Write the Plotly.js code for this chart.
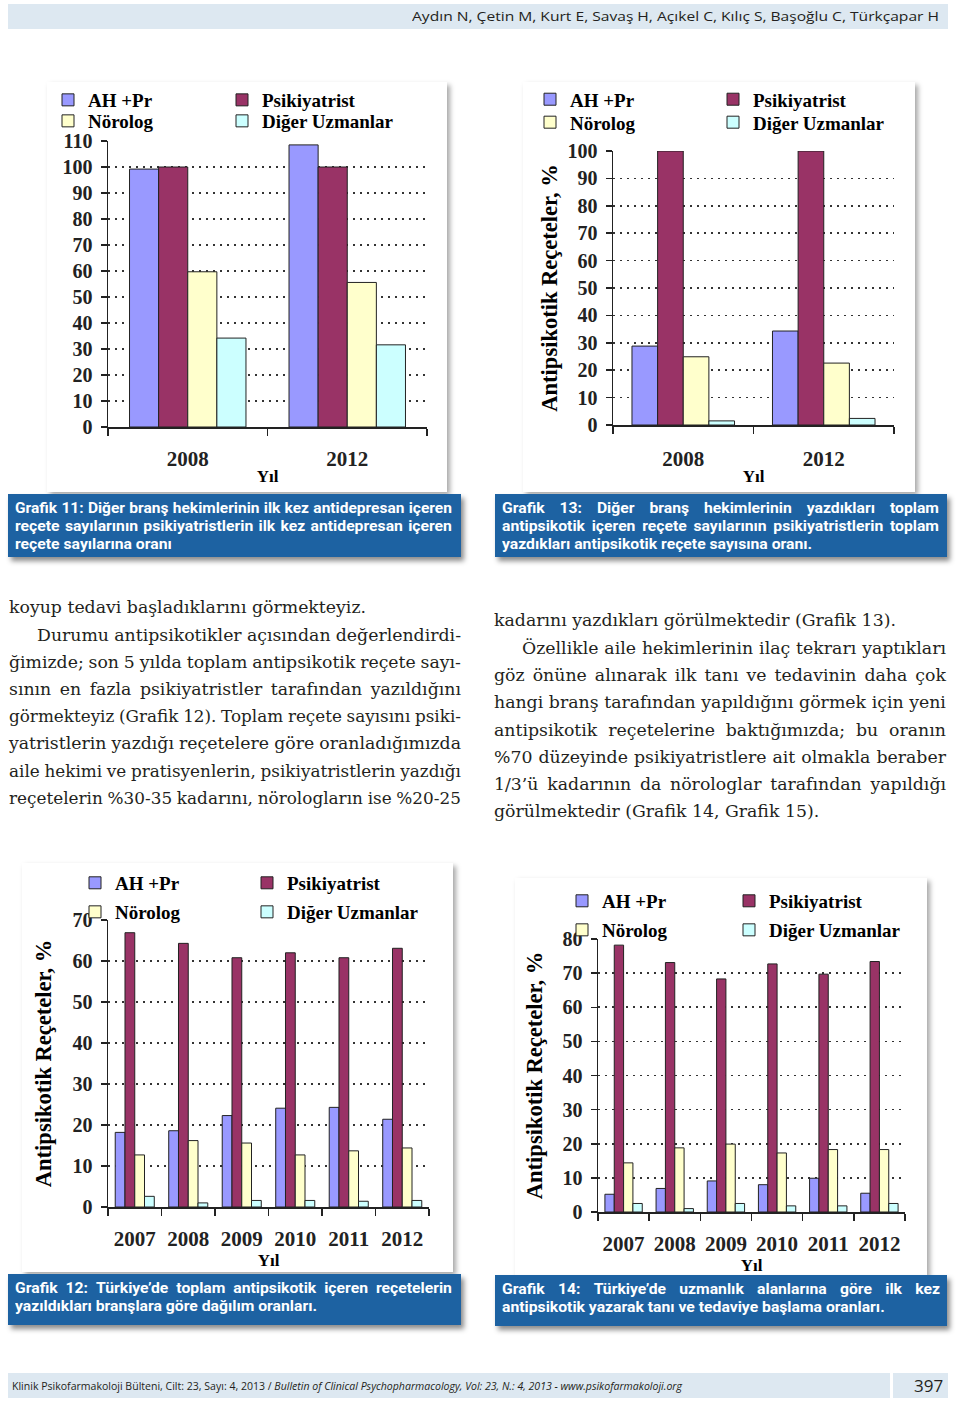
<!DOCTYPE html>
<html><head><meta charset="utf-8">
<script src="https://cdn.plot.ly/plotly-3.0.1.min.js"></script>
<style>
html,body{margin:0;padding:0;}
body{width:960px;height:1403px;position:relative;background:#fff;overflow:hidden;}
.band{position:absolute;background:#dde8f1;}
.panel{position:absolute;background:#fff;box-shadow:3px 3px 5px rgba(0,0,0,0.35);}
.cap{position:absolute;background:#1d62a2;box-shadow:3px 4px 5px rgba(0,0,0,0.45);}
.ln{position:absolute;white-space:pre;}
.capt{font-family:'Roboto',sans-serif;font-weight:700;font-size:14.5px;color:#fff;}
.bt{font-family:'DejaVu Serif',serif;font-size:16px;color:#231f20;}
.hd{font-family:'Open Sans',sans-serif;font-size:13.5px;color:#231f20;}
.ft{font-family:'Open Sans',sans-serif;font-size:11px;color:#231f20;}
</style></head>
<body>
<div class="band" style="left:8px;top:4px;width:940px;height:25px;"></div>
<div class="band" style="left:8px;top:1373px;width:882px;height:25px;"></div>
<div class="band" style="left:893px;top:1373px;width:55px;height:25px;"></div>

<div id="c11" class="panel" style="left:47px;top:82px;width:400px;height:410px;"></div>
<div id="c13" class="panel" style="left:523px;top:82px;width:392px;height:410px;"></div>
<div id="c12" class="panel" style="left:22px;top:863px;width:431px;height:409px;"></div>
<div id="c14" class="panel" style="left:515px;top:878px;width:412px;height:397px;"></div>

<div class="cap" style="left:8px;top:494px;width:453px;height:63px;"></div>
<div class="cap" style="left:495px;top:494px;width:452px;height:63px;"></div>
<div class="cap" style="left:8px;top:1274px;width:453px;height:51px;"></div>
<div class="cap" style="left:495px;top:1275px;width:452px;height:51px;"></div>

<script>
// ---------------- chart data ----------------
const seriesNames = ['AH +Pr', 'Psikiyatrist', 'Nörolog', 'Diğer Uzmanlar'];
const seriesColors = ['#9999FF', '#993366', '#FFFFCC', '#CCFFFF'];

// Grafik 11
const years11 = ['2008', '2012'];
const ahpr11 = [99.2, 108.5];
const psik11 = [100, 100];
const norolog11 = [59.7, 55.6];
const diger11 = [34.2, 31.6];

// Grafik 13
const years13 = ['2008', '2012'];
const ahpr13 = [28.8, 34.3];
const psik13 = [100, 100];
const norolog13 = [24.9, 22.6];
const diger13 = [1.5, 2.4];

// Grafik 12
const years12 = ['2007', '2008', '2009', '2010', '2011', '2012'];
const ahpr12 = [18.2, 18.6, 22.3, 24.1, 24.3, 21.4];
const psik12 = [66.9, 64.3, 60.8, 62.0, 60.8, 63.1];
const norolog12 = [12.7, 16.2, 15.6, 12.7, 13.7, 14.4];
const diger12 = [2.6, 1.0, 1.6, 1.6, 1.4, 1.6];

// Grafik 14
const years14 = ['2007', '2008', '2009', '2010', '2011', '2012'];
const ahpr14 = [5.2, 6.9, 9.1, 8.0, 9.9, 5.5];
const psik14 = [78.2, 73.1, 68.3, 72.7, 69.7, 73.4];
const norolog14 = [14.4, 18.8, 19.9, 17.3, 18.3, 18.3];
const diger14 = [2.5, 1.0, 2.5, 1.8, 1.8, 2.5];

const xTitle = 'Yıl';
const yTitle = 'Antipsikotik Reçeteler, %';

// ---------------- page text ----------------
const headerText = 'Aydın N, Çetin M, Kurt E, Savaş H, Açıkel C, Kılıç S, Başoğlu C, Türkçapar H';
const footerText1 = 'Klinik Psikofarmakoloji Bülteni, Cilt: 23, Sayı: 4, 2013 / ';
const footerText2 = 'Bulletin of Clinical Psychopharmacology, Vol: 23, N.: 4, 2013 - www.psikofarmakoloji.org';
const pageNo = '397';
const cap11 = ['Grafik 11: Diğer branş hekimlerinin ilk kez antidepresan içeren',
  'reçete sayılarının psikiyatristlerin ilk kez antidepresan içeren',
  'reçete sayılarına oranı'];
const cap13 = ['Grafik 13: Diğer branş hekimlerinin yazdıkları toplam',
  'antipsikotik içeren reçete sayılarının psikiyatristlerin toplam',
  'yazdıkları antipsikotik reçete sayısına oranı.'];
const cap12 = ['Grafik 12: Türkiye’de toplam antipsikotik içeren reçetelerin',
  'yazıldıkları branşlara göre dağılım oranları.'];
const cap14 = ['Grafik 14: Türkiye’de uzmanlık alanlarına göre ilk kez',
  'antipsikotik yazarak tanı ve tedaviye başlama oranları.'];
const bodyLeft = ['koyup tedavi başladıklarını görmekteyiz.',
  'Durumu antipsikotikler açısından değerlendirdi-',
  'ğimizde; son 5 yılda toplam antipsikotik reçete sayı-',
  'sının en fazla psikiyatristler tarafından yazıldığını',
  'görmekteyiz (Grafik 12). Toplam reçete sayısını psiki-',
  'yatristlerin yazdığı reçetelere göre oranladığımızda',
  'aile hekimi ve pratisyenlerin, psikiyatristlerin yazdığı',
  'reçetelerin %30-35 kadarını, nörologların ise %20-25'];
const bodyRight = ['kadarını yazdıkları görülmektedir (Grafik 13).',
  'Özellikle aile hekimlerinin ilaç tekrarı yaptıkları',
  'göz önüne alınarak ilk tanı ve tedavinin daha çok',
  'hangi branş tarafından yapıldığını görmek için yeni',
  'antipsikotik reçetelerine baktığımızda; bu oranın',
  '%70 düzeyinde psikiyatristlere ait olmakla beraber',
  '1/3’ü kadarının da nörologlar tarafından yapıldığı',
  'görülmektedir (Grafik 14, Grafik 15).'];

// ---------------- text helpers ----------------
function natWidth(text, cls, italicPart) {
  const d = document.createElement('span');
  d.className = cls; d.style.position = 'absolute'; d.style.whiteSpace = 'pre'; d.style.visibility = 'hidden';
  d.textContent = text;
  if (italicPart) { const i = document.createElement('i'); i.textContent = italicPart; d.appendChild(i); }
  document.body.appendChild(d);
  const w = d.getBoundingClientRect().width;
  d.remove();
  return w;
}
function addLine(text, x, cy, w, lh, cls, justify, scale, fontSize) {
  const d = document.createElement('div');
  d.className = 'ln ' + cls;
  if (fontSize) d.style.fontSize = fontSize + 'px';
  d.style.left = x + 'px'; d.style.top = (cy - lh / 2) + 'px';
  d.style.height = lh + 'px'; d.style.lineHeight = lh + 'px';
  if (justify) {
    d.style.display = 'flex'; d.style.justifyContent = 'space-between';
    const words = text.split(/\s+/);
    const spans = words.map(function (wd) {
      const s = document.createElement('span'); s.textContent = wd; d.appendChild(s); return s;
    });
    d.style.width = (w / scale) + 'px';
    document.body.appendChild(d);
    let sum = 0;
    spans.forEach(function (s) { sum += s.getBoundingClientRect().width; });
    const fsz = parseFloat(getComputedStyle(d).fontSize);
    const need = (sum + (words.length - 1) * fsz * 0.28) * scale;
    if (need > w) scale = scale * w / need;
    d.style.width = (w / scale) + 'px';
  } else {
    d.textContent = text;
    document.body.appendChild(d);
  }
  if (scale !== 1) { d.style.transform = 'scaleX(' + scale + ')'; d.style.transformOrigin = '0 0'; }
  return d;
}

// header + footer
(function () {
  const s = 527 / natWidth(headerText, 'hd');
  addLine(headerText, 412, 16, 527, 20, 'hd', false, s);
  const f = 670 / natWidth(footerText1, 'ft', footerText2);
  const d = addLine(footerText1, 12, 1386, 670, 18, 'ft', false, f);
  const i = document.createElement('i'); i.textContent = footerText2; d.appendChild(i);
  addLine(pageNo, 914, 1386, 28, 22, 'hd', false, 1, 17);
})();

// captions
(function () {
  const cs = 302 / natWidth(cap12[1], 'capt');
  function cap(lines, x, cy0, w) {
    lines.forEach(function (t, k) {
      addLine(t, x, cy0 + 18 * k, w, 18, 'capt', k < lines.length - 1, cs);
    });
  }
  cap(cap11, 15, 508.5, 437);
  cap(cap13, 502, 508.5, 437);
  cap(cap12, 15, 1289, 437);
  cap(cap14, 502, 1290, 438);
})();

// body text
(function () {
  const fs = 17;
  const bs = 357 / natWidth(bodyLeft[0], 'bt') * 16 / fs;
  function col(lines, x, cy0, lh, w, just) {
    lines.forEach(function (t, k) {
      const ind = (k === 1) ? 28 : 0;
      addLine(t, x + ind, cy0 + lh * k, w - ind, lh, 'bt', just[k], bs, fs);
    });
  }
  col(bodyLeft, 9, 608, 27.2, 452, [false, true, true, true, true, true, true, true]);
  col(bodyRight, 494, 621, 27.3, 452, [false, true, true, true, true, true, true, false]);
})();

// ---------------- charts ----------------
const FONT = 'Liberation Serif, Times New Roman, serif';
const legendIds = ['legend', 'legend2', 'legend3', 'legend4'];
function drawChart(id, cats, ah, ps, no, di, o) {
  const vals = [ah, ps, no, di];
  const traces = vals.map(function (v, k) {
    return {
      type: 'bar', name: seriesNames[k], x: cats, y: v,
      marker: { color: seriesColors[k], line: { color: '#222', width: 1 } },
      legend: legendIds[k], hoverinfo: 'skip'
    };
  });
  const pw = o.w - o.l - o.r, ph = o.h - o.t - o.b;
  const px = function (X) { return (X - o.left - o.l) / pw; };
  const py = function (Y) { return (o.top + o.h - o.b - Y) / ph; };
  const legBase = {
    orientation: 'h', xanchor: 'left', yanchor: 'middle', xref: 'paper', yref: 'paper',
    font: { family: FONT, size: 19, weight: 700, color: '#000' },
    bgcolor: 'rgba(0,0,0,0)', borderwidth: 0, itemclick: false, itemdoubleclick: false
  };
  const legPos = [[o.lx1, o.ly1], [o.lx2, o.ly1], [o.lx1, o.ly2], [o.lx2, o.ly2]];
  const layout = {
    width: o.w, height: o.h,
    margin: { l: o.l, r: o.r, t: o.t, b: o.b, pad: 0, autoexpand: false },
    paper_bgcolor: 'rgba(0,0,0,0)', plot_bgcolor: 'rgba(0,0,0,0)',
    font: { family: FONT, weight: 700, color: '#000', size: 20 },
    barmode: 'group', bargap: 0.27, bargroupgap: 0,
    showlegend: true,
    xaxis: {
      type: 'category', showline: true, linecolor: '#222', linewidth: 1.5,
      ticks: 'outside', tickson: 'boundaries', ticklen: 7, tickwidth: 1.5, tickcolor: '#222',
      tickangle: 0,
      tickfont: { family: FONT, size: 21, weight: 700, color: '#222' }, ticklabelstandoff: o.xstand,
      title: { text: xTitle, font: { family: FONT, size: 17, weight: 700, color: '#000' }, standoff: 0 },
      showgrid: false, automargin: false, fixedrange: true
    },
    yaxis: {
      range: [0, o.ymax], tick0: 0, dtick: 10, showline: true, linecolor: '#222', linewidth: 1.5,
      ticks: 'outside', ticklen: 6, tickwidth: 1.5, tickcolor: '#222',
      tickfont: { family: FONT, size: 20, weight: 700, color: '#222' }, ticklabelstandoff: 4,
      showgrid: true, gridcolor: '#333', gridwidth: 1.6, griddash: '2px,5px', zeroline: false,
      automargin: false, fixedrange: true
    }
  };
  legendIds.forEach(function (lid, k) {
    layout[lid] = Object.assign({}, legBase, { x: px(legPos[k][0] - 40), y: py(legPos[k][1]) });
  });
  if (o.ytitle) {
    layout.yaxis.title = { text: yTitle, font: { family: FONT, size: 22.5, weight: 700, color: '#000' }, standoff: o.ystand };
  }
  Plotly.newPlot(id, traces, layout, { displayModeBar: false, staticPlot: true });
}

drawChart('c11', years11, ahpr11, psik11, norolog11, diger11,
  { left: 47, top: 82, w: 400, h: 410, l: 61, r: 20, t: 59, b: 65, ymax: 110,
    xstand: 12, lx1: 88, lx2: 262, ly1: 100, ly2: 121, ytitle: false });
drawChart('c13', years13, ahpr13, psik13, norolog13, diger13,
  { left: 523, top: 82, w: 392, h: 410, l: 90, r: 21, t: 68.7, b: 67, ymax: 100,
    xstand: 14, lx1: 570, lx2: 753, ly1: 99, ly2: 122, ytitle: true, ystand: 3 });
drawChart('c12', years12, ahpr12, psik12, norolog12, diger12,
  { left: 22, top: 863, w: 431, h: 409, l: 86, r: 24, t: 57, b: 65.3, ymax: 70,
    xstand: 12, lx1: 115, lx2: 287, ly1: 883, ly2: 912, ytitle: true, ystand: 14 });
drawChart('c14', years14, ahpr14, psik14, norolog14, diger14,
  { left: 515, top: 878, w: 412, h: 397, l: 83, r: 22, t: 61, b: 63.3, ymax: 80,
    xstand: 12, lx1: 602, lx2: 769, ly1: 901, ly2: 930, ytitle: true, ystand: 13 });
</script>
</body></html>
